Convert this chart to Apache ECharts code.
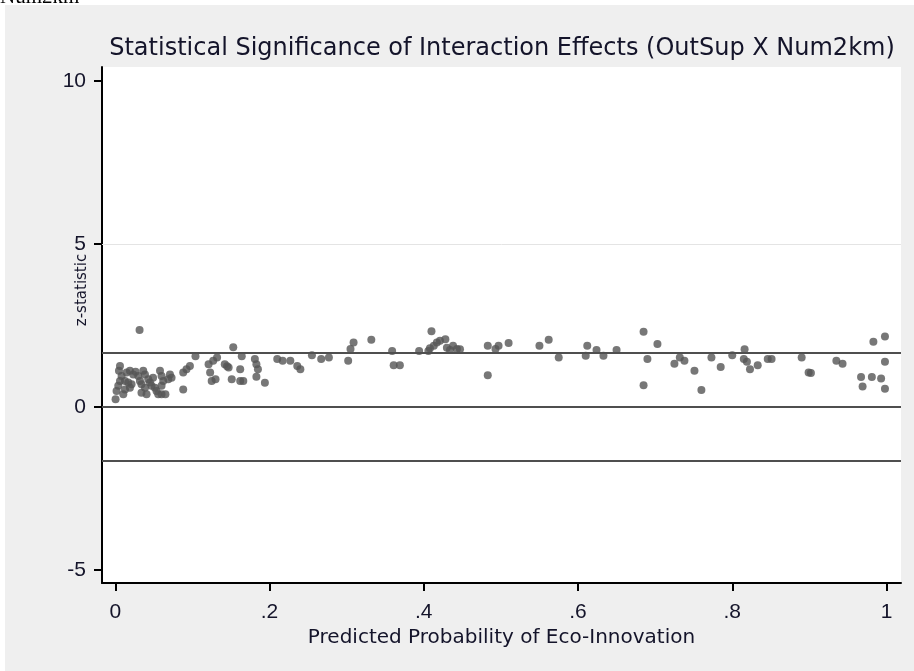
<!DOCTYPE html>
<html>
<head>
<meta charset="utf-8">
<script src="https://cdn.jsdelivr.net/npm/echarts@6/dist/echarts.min.js"></script>
<style>html,body{margin:0;padding:0;background:#fff}#c{width:914px;height:671px}</style>
</head>
<body>
<div id="c"></div>
<script>
const titleText = 'Statistical Significance of Interaction Effects (OutSup X Num2km)';
const xName = 'Predicted Probability of Eco-Innovation';
const yName = 'z-statistic';
const xTicks = [0, 0.2, 0.4, 0.6, 0.8, 1];
const yTicks = [-5, 0, 5, 10];
const refLines = [1.645, 0, -1.645];
const gridLineAt = [5];
const probX = [
  0.0315,
  0.0061,0.0048,0.0082,0.0061,0.0039,0.0017,0.0004,
  0.0147,0.019,0.0233,0.0263,0.0126,0.0168,0.0211,0.019,0.0126,0.0104,
  0.0298,0.032,0.034,0.0385,0.034,0.0406,0.0363,0.0385,0.0428,0.045,0.047,0.049,0.0514,0.0535,0.0557,0.06,
  0.058,0.06,0.0622,0.06,0.0687,0.0709,0.073,0.065,
  0.0881,0.0881,0.0924,0.0968,0.104,
  0.121,0.123,0.125,0.127,0.132,0.130,
  0.142,0.145,0.147,0.153,0.151,0.162,0.162,0.166,0.164,
  0.181,0.183,0.185,0.183,0.194,
  0.210,0.217,0.227,0.236,0.240,0.255,0.267,0.277,
  0.302,0.305,0.309,0.332,0.359,0.361,0.369,0.394,
  0.406,0.408,0.410,0.413,0.417,0.421,0.428,0.430,0.434,0.438,0.443,0.447,
  0.483,0.483,0.493,0.497,0.510,
  0.550,0.562,0.575,
  0.610,0.612,0.624,0.633,0.650,
  0.685,0.685,0.690,0.703,
  0.725,0.732,0.738,0.751,0.760,0.773,0.785,0.800,
  0.816,0.815,0.819,0.823,0.833,0.846,0.851,
  0.890,0.899,0.902,
  0.935,0.943,
  0.967,0.969,0.981,0.983,0.993,0.998,0.998,0.998
];
const zStat = [
  2.36,
  1.26,1.11,0.95,0.80,0.65,0.49,0.24,
  1.06,1.11,1.00,1.08,0.80,0.75,0.70,0.59,0.54,0.39,
  0.95,0.80,0.70,0.59,0.44,0.39,1.11,1.00,0.85,0.75,0.65,0.90,0.59,0.49,0.39,0.39,
  1.11,0.95,0.80,0.65,0.85,1.00,0.90,0.39,
  0.54,1.06,1.16,1.26,1.56,
  1.31,1.06,0.80,1.42,1.52,0.85,
  1.31,1.25,1.21,1.83,0.85,1.16,0.80,0.80,1.56,
  1.47,1.31,1.16,0.93,0.74,
  1.47,1.42,1.42,1.26,1.16,1.59,1.47,1.52,
  1.42,1.78,1.98,2.06,1.72,1.28,1.28,1.72,
  1.72,1.80,2.32,1.88,1.98,2.03,2.08,1.82,1.75,1.88,1.78,1.77,
  1.88,0.97,1.78,1.88,1.96,
  1.88,2.06,1.52,
  1.57,1.88,1.75,1.57,1.75,
  2.31,0.67,1.47,1.93,
  1.33,1.52,1.42,1.11,0.52,1.52,1.23,1.59,
  1.77,1.47,1.39,1.16,1.28,1.47,1.47,
  1.52,1.06,1.04,
  1.42,1.33,
  0.92,0.63,0.92,2.00,0.87,2.16,1.39,0.56
];

const points = probX.map((x, i) => [x, zStat[i]]);
const fmtX = v => v === 0 ? '0' : (v === 1 ? '1' : String(v).replace(/^0/, ''));
const txt = '#14142a';

const chart = echarts.init(document.getElementById('c'), null, {renderer: 'canvas'});
chart.setOption({
  backgroundColor: '#ffffff',
  animation: false,
  graphic: [
    {type: 'text', left: 0, top: -13, z: 0, style: {text: 'Num2km', font: '21px "Liberation Serif"', fill: '#000'}},
    {type: 'rect', shape: {x: 5, y: 5, width: 909, height: 666}, style: {fill: '#efefef'}, z: -1, silent: true}
  ],
  title: {
    text: titleText,
    left: 502, top: 37, textAlign: 'center', padding: 0,
    textStyle: {fontFamily: 'DejaVu Sans', fontSize: 24, fontWeight: 'normal', color: txt}
  },
  grid: {left: 102, right: 13, top: 67, bottom: 88, show: true, backgroundColor: '#ffffff', borderWidth: 0},
  xAxis: {
    type: 'value', min: -0.0172, max: 1.0188,
    name: xName, nameLocation: 'middle', nameGap: 37,
    nameTextStyle: {fontFamily: 'DejaVu Sans', fontSize: 20, color: txt},
    axisLine: {show: true, onZero: false, lineStyle: {color: '#000', width: 2}},
    axisTick: {show: true, customValues: xTicks, length: 8, lineStyle: {color: '#000', width: 2}},
    axisLabel: {customValues: xTicks, formatter: fmtX, margin: 19, fontFamily: 'Liberation Sans', fontSize: 21, color: txt},
    splitLine: {show: false}
  },
  yAxis: {
    type: 'value', min: -5.4, max: 10.43,
    name: yName, nameLocation: 'middle', nameGap: 12, nameMoveOverlap: false,
    nameTextStyle: {fontFamily: 'DejaVu Sans', fontSize: 15, color: txt, padding: [0, 0, 0, 70]},
    axisLine: {show: true, onZero: false, lineStyle: {color: '#000', width: 2}},
    axisTick: {show: true, customValues: yTicks, length: 8, lineStyle: {color: '#000', width: 2}},
    axisLabel: {customValues: yTicks, margin: 16, fontFamily: 'Liberation Sans', fontSize: 21, color: txt},
    splitLine: {show: false}
  },
  series: [
    {
      type: 'scatter', data: points, symbol: 'circle', symbolSize: 8,
      itemStyle: {color: '#555555'}, z: 3,
      markLine: {
        silent: true, symbol: 'none', label: {show: false},
        data: [
          ...gridLineAt.map(v => ({yAxis: v, lineStyle: {color: '#e4e4e4', width: 1, type: 'solid'}})),
          ...refLines.map(v => ({yAxis: v, lineStyle: {color: '#4f4f4f', width: 2, type: 'solid'}}))
        ]
      }
    }
  ]
});
</script>
</body>
</html>
